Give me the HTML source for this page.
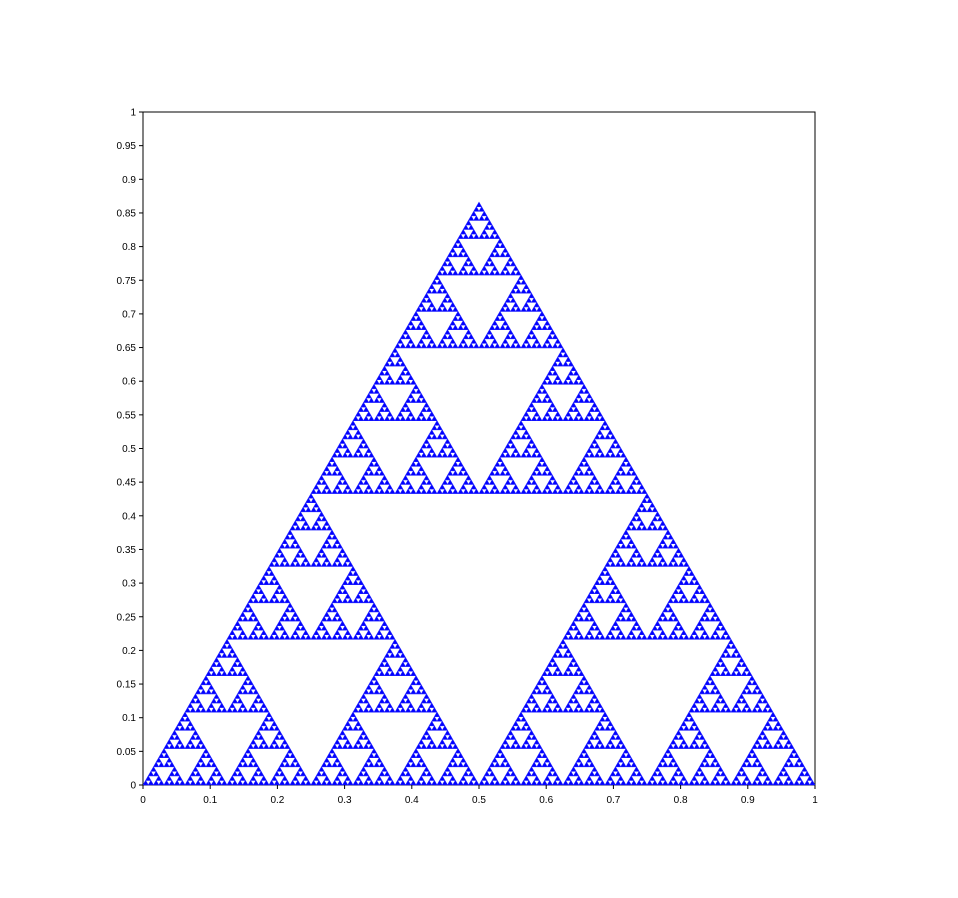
<!DOCTYPE html>
<html><head><meta charset="utf-8"><style>
html,body{margin:0;padding:0;background:#fff;}
svg{display:block;font-family:"Liberation Sans",sans-serif;}
</style></head><body>
<svg id="c" width="958" height="898" xmlns="http://www.w3.org/2000/svg"></svg>
<script>
const cornerX=[0,1,0.5];
const cornerY=[0,0,0.866];
const depthLevels=[7];
const xTicks=[0,0.1,0.2,0.3,0.4,0.5,0.6,0.7,0.8,0.9,1];
const xTickLabels=["0","0.1","0.2","0.3","0.4","0.5","0.6","0.7","0.8","0.9","1"];
const yTicks=[0,0.05,0.1,0.15,0.2,0.25,0.3,0.35,0.4,0.45,0.5,0.55,0.6,0.65,0.7,0.75,0.8,0.85,0.9,0.95,1];
const yTickLabels=["0","0.05","0.1","0.15","0.2","0.25","0.3","0.35","0.4","0.45","0.5","0.55","0.6","0.65","0.7","0.75","0.8","0.85","0.9","0.95","1"];
const L=143,R=815,T=112,B=785;
const sx=v=>L+v*(R-L), sy=v=>B-v*(B-T);
const svg=document.getElementById('c');
const NS='http://www.w3.org/2000/svg';
function mk(t,a){const e=document.createElementNS(NS,t);for(const k in a)e.setAttribute(k,a[k]);svg.appendChild(e);return e;}
const frame=mk('rect',{x:L,y:T,width:R-L,height:B-T,fill:'#fff',stroke:'#000','stroke-width':1});


const g=document.createElementNS(NS,'g');svg.appendChild(g);


let d='';
function tri(ax,ay,bx,by,cx,cy,n){
  if(n===0){d+='M'+sx(ax).toFixed(2)+' '+sy(ay).toFixed(2)+'L'+sx(bx).toFixed(2)+' '+sy(by).toFixed(2)+'L'+sx(cx).toFixed(2)+' '+sy(cy).toFixed(2)+'Z';return;}
  const abx=(ax+bx)/2,aby=(ay+by)/2,bcx=(bx+cx)/2,bcy=(by+cy)/2,acx=(ax+cx)/2,acy=(ay+cy)/2;
  tri(ax,ay,abx,aby,acx,acy,n-1);tri(abx,aby,bx,by,bcx,bcy,n-1);tri(acx,acy,bcx,bcy,cx,cy,n-1);
}
tri(cornerX[0],cornerY[0],cornerX[1],cornerY[1],cornerX[2],cornerY[2],depthLevels[0]);
const p=document.createElementNS(NS,'path');p.setAttribute('d',d);p.setAttribute('fill','#0000ff');p.setAttribute('stroke','#2020ff');p.setAttribute('stroke-width','0.6');g.appendChild(p);


xTicks.forEach((v,i)=>{
  const l=mk('line',{x1:sx(v),x2:sx(v),y1:B,y2:B+4,stroke:'#000'});
  
  
  const t=mk('text',{x:sx(v),y:B+18,'font-size':10,'text-anchor':'middle'});t.textContent=xTickLabels[i];
  
  
});
yTicks.forEach((v,i)=>{
  const l=mk('line',{x1:L-4,x2:L,y1:sy(v),y2:sy(v),stroke:'#000'});
  
  
  const t=mk('text',{x:L-7,y:sy(v)+3.5,'font-size':10,'text-anchor':'end'});t.textContent=yTickLabels[i];
  
  
});
</script>
</body></html>
